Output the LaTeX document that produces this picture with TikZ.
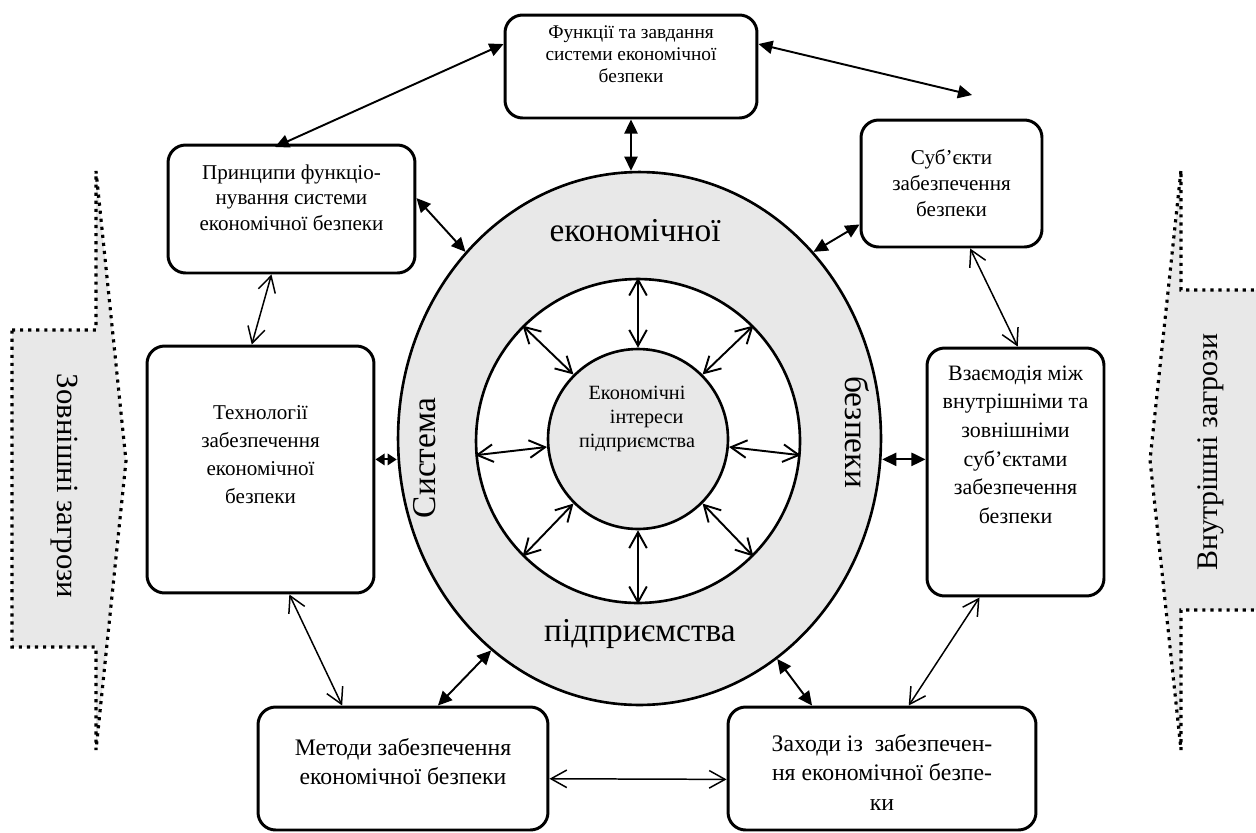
\documentclass[tikz,border=0pt]{standalone}
\usepackage{fontspec}
\setmainfont{Liberation Serif}
\usetikzlibrary{arrows.meta,shapes.geometric}
\definecolor{ringgray}{RGB}{232,232,232}

\begin{document}
\begin{tikzpicture}[x=0.02cm, y=-0.02cm,
  blk/.style={draw, line width=1.7pt, rounded corners=10pt, inner sep=0pt, font=\fontsize{12}{16}\selectfont},
  link/.style={{Triangle[length=8pt,width=7.5pt]}-{Triangle[length=8pt,width=7.5pt]}, line width=1.1pt},
  short link/.style={{Triangle[length=5.2pt,width=6.5pt]}-{Triangle[length=5.2pt,width=6.5pt]}, line width=1.1pt},
  thin link/.style={{Straight Barb[length=9pt,width=10pt]}-{Straight Barb[length=9pt,width=10pt]}, line width=0.85pt},
  threat/.style={draw, fill=ringgray, line width=1.8pt, dash pattern=on 1.8pt off 2.8pt},
  big/.style={font=\fontsize{19}{22}\selectfont}]
\useasboundingbox (0,0) rectangle (1256,832);

% threats on both sides
\path[threat] (12,330) -- (96,330) -- (96,171) -- (126,461) -- (96,750) -- (96,647) -- (12,647) -- cycle;
\node[rotate=-90, font=\fontsize{17.5}{20}\selectfont] (ext) at (64,486) {Зовнішні загрози};
\path[threat] (1262,290) -- (1181,290) -- (1181,170) -- (1150,460) -- (1181,750) -- (1181,610) -- (1262,610);
\node[rotate=90, font=\fontsize{17}{20}\selectfont] (int) at (1211,452) {Внутрішні загрози};

% the system itself
\node[ellipse, draw, fill=ringgray, line width=1.5pt, minimum width=9.66cm, minimum height=10.66cm, inner sep=0pt] (sys) at (639.5,438.5) {};
\node[circle, draw, fill=white, line width=1.5pt, minimum size=6.48cm, inner sep=0pt] (ring) at (638,441) {};
\node[circle, draw, fill=ringgray, line width=1.5pt, minimum size=3.6cm, inner sep=0pt] (core) at (638,439) {};
\node[align=center, font=\fontsize{11.5}{13.5}\selectfont] (coretext) at (637,419) {Економічні\\\hspace*{11pt}інтереси\\підприємства};
\node[big, anchor=base] (w1) at (635,241) {економічної};
\node[big, anchor=base] (w2) at (640,641) {підприємства};
\node[big, rotate=90, anchor=base] (w3) at (435,458) {Система};
\node[big, rotate=-90, anchor=base] (w4) at (845,432) {безпеки};

\draw[thin link, line width=1.1pt] (core.-5) -- (ring.-5);
\draw[thin link, line width=1.1pt] (core.45) -- (ring.45);
\draw[thin link, line width=1.1pt] (core.90) -- (ring.90);
\draw[thin link, line width=1.1pt] (core.135) -- (ring.135);
\draw[thin link, line width=1.1pt] (core.185) -- (ring.185);
\draw[thin link, line width=1.1pt] (core.225) -- (ring.225);
\draw[thin link, line width=1.1pt] (core.270) -- (ring.270);
\draw[thin link, line width=1.1pt] (core.315) -- (ring.315);

% boxes round it
\node[blk, font=\fontsize{11}{12.5}\selectfont] (func) at (631,66.5) {\parbox[c][2.06cm][c]{5.04cm}{\centering Функції та завдання\\системи економічної\\безпеки\par\vspace{14pt}}};
\node[blk, font=\fontsize{12}{14.5}\selectfont] (princ) at (291.5,209) {\parbox[c][2.56cm][c]{4.94cm}{\centering Принципи функціо-\\нування системи\\економічної безпеки\par\vspace{13pt}}};
\node[blk, font=\fontsize{12}{14.8}\selectfont] (subj) at (951.5,183.5) {\parbox[c][2.54cm][c]{3.62cm}{\centering Суб’єкти\\забезпечення\\безпеки}};
\node[blk] (tech) at (260.5,469.5) {\parbox[c][4.94cm][c]{4.54cm}{\centering Технології\\забезпечення\\економічної\\безпеки\par\vspace{17pt}}};
\node[blk, font=\fontsize{12.5}{16.3}\selectfont] (inter) at (1015.5,472) {\parbox[c][4.96cm][c]{3.54cm}{\centering Взаємодія між\\внутрішніми та\\зовнішніми\\суб’єктами\\забезпечення\\безпеки\par\vspace{31pt}}};
\node[blk, font=\fontsize{13.5}{16.5}\selectfont] (meth) at (403,768.5) {\parbox[c][2.46cm][c]{5.8cm}{\centering Методи забезпечення\\економічної безпеки\par\vspace{8pt}}};
\node[blk, font=\fontsize{13.5}{16.8}\selectfont] (meas) at (882,768.5) {\parbox[c][2.46cm][c]{6.16cm}{\centering Заходи із\ \ забезпечен-\\ня економічної безпе-\\ки\par\vspace{-4.5pt}}};

\coordinate (fl) at (275,147);
\coordinate (fr) at (972,95);

\draw[link] (func.170) -- (fl);
\draw[link] (func.10) -- (fr);
\draw[link] (func.south) -- (func.south |- sys.north);
\draw[link] (princ.5) -- (sys.133);
\draw[link] (subj.204) -- (sys.47);
\draw[short link] (tech.5) -- (tech.5 -| sys.west);
\draw[link] (inter.172) -- (inter.172 -| sys.east);
\draw[link] (meth.61) -- (sys.235);
\draw[link] (meas.138) -- (sys.302);

\draw[thin link] (princ.253) -- (tech.94);
\draw[thin link] (subj.286) -- (inter.89);
\draw[thin link] (tech.283) -- (meth.134);
\draw[thin link] (inter.254) -- (meas.67);
\draw[thin link] (meth.356) -- (meas.184);
\end{tikzpicture}
\end{document}
